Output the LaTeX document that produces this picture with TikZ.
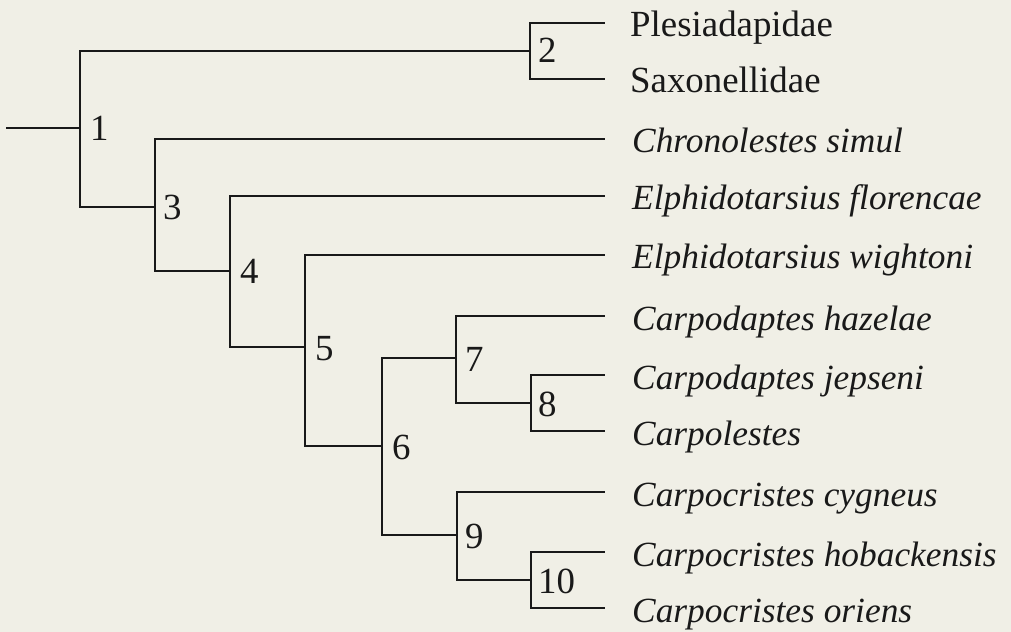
\documentclass[tikz,border=0pt]{standalone}
\usepackage{fontspec}
\setmainfont{Liberation Serif}
\definecolor{paper}{RGB}{240,239,230}
\definecolor{ink}{RGB}{25,25,25}
\begin{document}
\begin{tikzpicture}[x=1bp,y=-1bp,
  branch/.style={draw=ink,line width=1.3bp},
  leaf/.style={anchor=base west,inner sep=0pt,text=ink,font=\fontsize{35.5}{42}\selectfont\itshape},
  leafup/.style={leaf,font=\fontsize{37}{44}\selectfont},
  lbl/.style={anchor=base west,inner sep=0pt,text=ink,font=\fontsize{37}{44}\selectfont}]
\fill[paper] (0,0) rectangle (1011,632);
\useasboundingbox (0,0) rectangle (1011,632);
% internal junctions
\coordinate (r) at (6,128);
\coordinate (n1) at (80,128);
\coordinate (n2) at (530,51);
\coordinate (n3) at (155,207);
\coordinate (n4) at (230,271);
\coordinate (n5) at (305,347);
\coordinate (n6) at (382,446);
\coordinate (n7) at (456,358);
\coordinate (n8) at (531,403);
\coordinate (n9) at (457,535);
\coordinate (n10) at (531,580);
% leaf ends
\coordinate (l1) at (605,23);
\coordinate (l2) at (605,79);
\coordinate (l3) at (605,139);
\coordinate (l4) at (605,196);
\coordinate (l5) at (605,255);
\coordinate (l6) at (605,316);
\coordinate (l7) at (605,375);
\coordinate (l8) at (605,431);
\coordinate (l9) at (605,492);
\coordinate (l10) at (605,552);
\coordinate (l11) at (605,608);
% leaf texts
\node[leafup] (t1) at (630,37) {Plesiadapidae};
\node[leafup] (t2) at (630,93) {Saxonellidae};
\node[leaf] (t3) at (632,153) {Chronolestes simul};
\node[leaf] (t4) at (632,210) {Elphidotarsius florencae};
\node[leaf] (t5) at (632,269) {Elphidotarsius wightoni};
\node[leaf] (t6) at (632,330) {Carpodaptes hazelae};
\node[leaf] (t7) at (632,389) {Carpodaptes jepseni};
\node[leaf] (t8) at (632,445) {Carpolestes};
\node[leaf] (t9) at (632,506) {Carpocristes cygneus};
\node[leaf] (t10) at (632,566) {Carpocristes hobackensis};
\node[leaf] (t11) at (632,622) {Carpocristes oriens};
% node numbers
\node[lbl] (k1) at (90,141) {1};
\node[lbl] (k2) at (538,63) {2};
\node[lbl] (k3) at (163,220) {3};
\node[lbl] (k4) at (240,284) {4};
\node[lbl] (k5) at (315,360) {5};
\node[lbl] (k6) at (392,459) {6};
\node[lbl] (k7) at (465,371) {7};
\node[lbl] (k8) at (538,416) {8};
\node[lbl] (k9) at (465,548) {9};
\node[lbl] (k10) at (538,593) {10};
% branches
\draw[branch] (r) -- (n1);
\draw[branch] (n1) |- (n2);
\draw[branch] (n1) |- (n3);
\draw[branch] (n2) |- (l1);
\draw[branch] (n2) |- (l2);
\draw[branch] (n3) |- (l3);
\draw[branch] (n3) |- (n4);
\draw[branch] (n4) |- (l4);
\draw[branch] (n4) |- (n5);
\draw[branch] (n5) |- (l5);
\draw[branch] (n5) |- (n6);
\draw[branch] (n6) |- (n7);
\draw[branch] (n6) |- (n9);
\draw[branch] (n7) |- (l6);
\draw[branch] (n7) |- (n8);
\draw[branch] (n8) |- (l7);
\draw[branch] (n8) |- (l8);
\draw[branch] (n9) |- (l9);
\draw[branch] (n9) |- (n10);
\draw[branch] (n10) |- (l10);
\draw[branch] (n10) |- (l11);
\end{tikzpicture}
\end{document}
